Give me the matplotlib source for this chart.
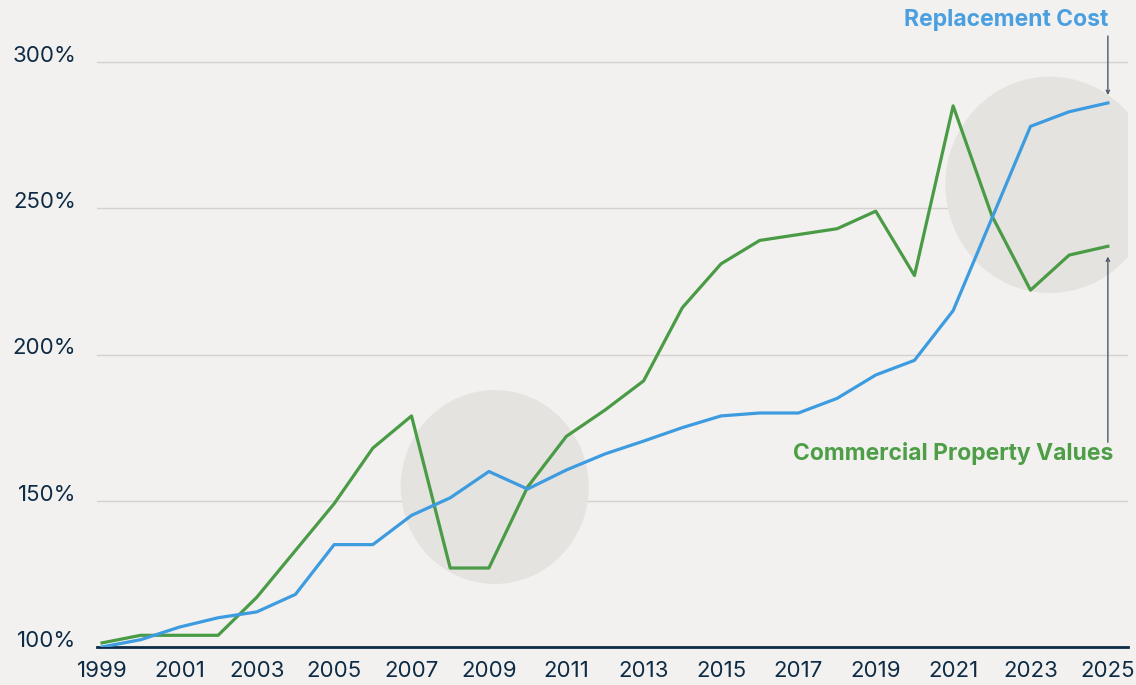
import matplotlib
matplotlib.use("Agg")
from matplotlib import pyplot
from matplotlib.patches import Ellipse

years = list(range(1999, 2026))
replacement_cost = [100, 102.5, 106.8, 110, 112, 118, 135, 135, 145, 151, 160, 154,
                    160.5, 166, 170.4, 175, 179, 180, 180, 185, 193, 198, 215, 246.5,
                    278, 283, 286]
property_values = [101.4, 104, 104, 104, 117, 133, 149, 168, 179, 127, 127, 154.7,
                   172, 181, 191, 216, 231, 239, 241, 243, 249, 227, 285, 247.5,
                   222, 234, 237]
y_ticks = [100, 150, 200, 250, 300]
x_ticks = list(range(1999, 2026, 2))

# highlighted regions: (center year, center %, width in years, height in %)
highlights = [(2009.15, 154.7, 4.86, 66.3), (2023.5, 258, 5.4, 74)]

bg = "#f2f1ef"
navy = "#0d2b45"
blue = "#3d9be0"
green = "#4a9b45"
arrow_c = "#4a5a6a"

pyplot.rcParams["font.family"] = ["Inter", "DejaVu Sans"]

fig = pyplot.figure(figsize=(11.36, 6.85), dpi=100, facecolor=bg)
ax = fig.add_axes([97 / 1136, 38 / 685, (1128 - 97) / 1136, (647 - 0) / 685])
ax.set_facecolor(bg)

for cx, cy, w, h in highlights:
    ax.add_patch(Ellipse((cx, cy), w, h, facecolor="#e4e3df", edgecolor="none", zorder=1))

ax.plot(years, property_values, color=green, lw=2.3, zorder=3)
ax.plot(years, replacement_cost, color=blue, lw=2.3, zorder=4)

ax.set_xlim(1998.87, 2025.52)
ax.set_ylim(100, 100 + 647 / 2.925)

ax.set_yticks(y_ticks)
ax.set_yticklabels([f"{v}%" for v in y_ticks])
ax.set_xticks(x_ticks)
ax.set_xticklabels([str(v) for v in x_ticks])
ax.tick_params(length=0, labelsize=16, labelcolor=navy)
ax.tick_params(axis="x", pad=10)
ax.tick_params(axis="y", pad=15)
for lab in ax.get_yticklabels():
    lab.set_va("baseline")

for v in y_ticks[1:]:
    ax.axhline(v, color="#d3d2ce", lw=1, zorder=0)

for side in ["top", "right", "left"]:
    ax.spines[side].set_visible(False)
ax.spines["bottom"].set_color(navy)
ax.spines["bottom"].set_linewidth(2)

ax.text(2025.0, 314.4, "Replacement Cost", ha="right", va="center",
        color="#4a9fe0", fontsize=16.5, fontweight="bold")
ax.text(2025.13, 166.3, "Commercial Property Values", ha="right", va="center",
        color="#4d9e47", fontsize=16.5, fontweight="bold")
arrow = dict(arrowstyle="->", color=arrow_c, lw=1, shrinkA=0, shrinkB=0, mutation_scale=6)
ax.annotate("", xy=(2025, 288.7), xytext=(2025, 308.9), arrowprops=arrow)
ax.annotate("", xy=(2025, 233.5), xytext=(2025, 170), arrowprops=arrow)

fig.savefig("out.png", dpi=100, facecolor=bg)
